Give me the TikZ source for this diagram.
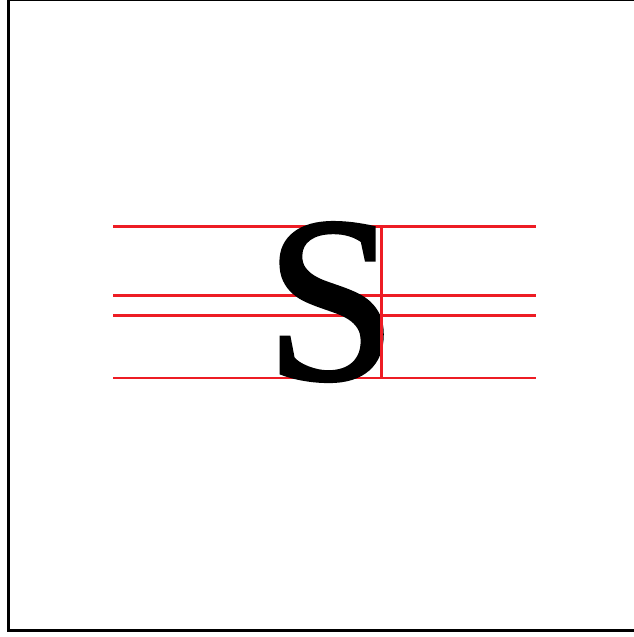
\documentclass[tikz,border=0pt]{standalone}
\usepackage{fontspec}
\setmainfont{Liberation Serif}
\newfontfamily\glyphfont[FakeBold=1.5]{Liberation Serif}
\definecolor{guidered}{RGB}{237,28,36}
\tikzset{
 guide/.style={guidered,line width=2.4pt},
 frame/.style={black,line width=3pt}
}
\begin{document}
\begin{tikzpicture}[x=1pt,y=-1pt]
\useasboundingbox (0,0) rectangle (634,637);
\draw[frame] (8.5,-0.5) rectangle (660,630.5);
% guide lines: cap height, two middle lines, baseline
\foreach \y/\n in {226.5/cap,295.5/upper,315.5/lower,378.2/base}{
 \coordinate (\n-l) at (113,\y);
 \coordinate (\n-r) at (536,\y);
 \draw[guide] (\n-l) -- (\n-r);
}
\node[inner sep=0pt,anchor=base] (glyph) at (331,379)
 {\fontsize{236}{236}\glyphfont S};
\coordinate (edge-t) at (381.4,226.5);
\coordinate (edge-b) at (381.4,378.2);
\draw[guide] (edge-t) -- (edge-b);
\end{tikzpicture}
\end{document}
